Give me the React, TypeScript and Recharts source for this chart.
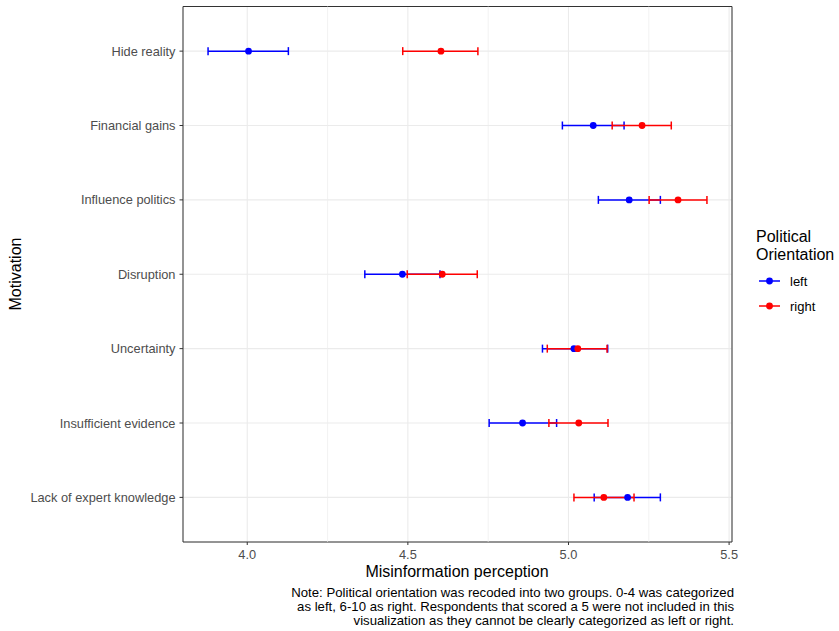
import React from "react";
import {
  ScatterChart,
  Scatter,
  XAxis,
  YAxis,
  CartesianGrid,
  ErrorBar,
  ReferenceLine,
  ReferenceArea,
} from "recharts";

const motivations = [
  "Hide reality",
  "Financial gains",
  "Influence politics",
  "Disruption",
  "Uncertainty",
  "Insufficient evidence",
  "Lack of expert knowledge",
];

const leftMean = [4.004, 5.077, 5.189, 4.483, 5.017, 4.857, 5.184];
const leftLow = [3.878, 4.981, 5.093, 4.366, 4.919, 4.753, 5.08];
const leftHigh = [4.128, 5.173, 5.286, 4.6, 5.122, 4.963, 5.286];

const rightMean = [4.603, 5.229, 5.341, 4.607, 5.029, 5.032, 5.11];
const rightLow = [4.484, 5.136, 5.251, 4.498, 4.934, 4.939, 5.017];
const rightHigh = [4.718, 5.32, 5.431, 4.716, 5.12, 5.123, 5.204];

const xTicks = [4.0, 4.5, 5.0, 5.5];
const xMinorTicks = [4.25, 4.75, 5.25];
const xDomain = [3.8, 5.509];
const yIndexTicks = motivations.map((_, i) => i);

const groupNames = ["left", "right"];
const groupColors = ["#0000FF", "#FF0000"];

const noteLines = [
  "Note: Political orientation was recoded into two groups. 0-4 was categorized",
  "as left, 6-10 as right. Respondents that scored a 5 were not included in this",
  "visualization as they cannot be clearly categorized as left or right.",
];

const build = (mean: number[], low: number[], high: number[]) =>
  motivations.map((name, i) => ({
    idx: i,
    name,
    mean: mean[i],
    err: [mean[i] - low[i], high[i] - mean[i]],
  }));

const leftData = build(leftMean, leftLow, leftHigh);
const rightData = build(rightMean, rightLow, rightHigh);

const FONT = "'Liberation Sans', Arial, Helvetica, sans-serif";

const makeDot = (color: string) => (props: any) =>
  <circle cx={props.cx} cy={props.cy} r={3.4} fill={color} />;
const NoShape = () => <g />;

export default function App() {
  return (
    <div
      style={{
        position: "absolute",
        left: 0,
        top: 0,
        width: 839,
        height: 631,
        background: "#ffffff",
        fontFamily: FONT,
      }}
    >
      <ScatterChart
        width={839}
        height={631}
        margin={{ top: 6.5, right: 107, left: 0, bottom: 0 }}
        style={{ position: "absolute", left: 0, top: 0 }}
      >
        <CartesianGrid stroke="#ebebeb" strokeWidth={1.1} />
        {xMinorTicks.map((v) => (
          <ReferenceLine key={v} x={v} stroke="#ededed" strokeWidth={0.7} />
        ))}
        <XAxis
          type="number"
          dataKey="mean"
          domain={xDomain}
          ticks={xTicks}
          allowDataOverflow
          tickFormatter={(v: number) => v.toFixed(1)}
          height={89}
          tickSize={3}
          tickMargin={4.5}
          axisLine={false}
          tickLine={{ stroke: "#333333" }}
          tick={{ fill: "#4d4d4d", fontSize: 12.8, fontFamily: FONT }}
        />
        <YAxis
          type="number"
          dataKey="idx"
          domain={[-0.6, 6.6]}
          reversed
          ticks={yIndexTicks}
          interval={0}
          allowDataOverflow
          tickFormatter={(v: number) => motivations[v]}
          width={183}
          tickSize={3.5}
          tickMargin={4}
          axisLine={false}
          tickLine={{ stroke: "#333333" }}
          tick={{ fill: "#4d4d4d", fontSize: 12.8, fontFamily: FONT }}
        />
        <Scatter data={leftData} shape={NoShape} isAnimationActive={false}>
          <ErrorBar
            dataKey="err"
            direction="x"
            width={4}
            stroke={groupColors[0]}
            strokeWidth={1.5}
            isAnimationActive={false}
          />
        </Scatter>
        <Scatter data={rightData} shape={NoShape} isAnimationActive={false}>
          <ErrorBar
            dataKey="err"
            direction="x"
            width={4}
            stroke={groupColors[1]}
            strokeWidth={1.5}
            isAnimationActive={false}
          />
        </Scatter>
        <Scatter data={leftData} shape={makeDot(groupColors[0])} isAnimationActive={false} />
        <Scatter data={rightData} shape={makeDot(groupColors[1])} isAnimationActive={false} />
        <ReferenceArea
          x1={xDomain[0]}
          x2={xDomain[1]}
          y1={-0.6}
          y2={6.6}
          fill="none"
          fillOpacity={0}
          stroke="#333333"
          strokeWidth={1}
          strokeOpacity={1}
        />
      </ScatterChart>
      <svg
        width={839}
        height={631}
        style={{ position: "absolute", left: 0, top: 0, pointerEvents: "none" }}
      >
        <text x={457} y={577} textAnchor="middle" fontSize={16} fill="#000" fontFamily={FONT}>
          Misinformation perception
        </text>
        <text
          x={0}
          y={0}
          transform="translate(21,274) rotate(-90)"
          textAnchor="middle"
          fontSize={16}
          fill="#000"
          fontFamily={FONT}
        >
          Motivation
        </text>
        {noteLines.map((line, i) => (
          <text
            key={i}
            x={734}
            y={596.5 + i * 14}
            textAnchor="end"
            fontSize={13.2}
            fill="#000"
            fontFamily={FONT}
          >
            {line}
          </text>
        ))}
        <text x={756} y={242} fontSize={16} fill="#000" fontFamily={FONT}>
          Political
        </text>
        <text x={756} y={260} fontSize={16} fill="#000" fontFamily={FONT}>
          Orientation
        </text>
        {groupNames.map((g, i) => (
          <g key={g}>
            <line
              x1={759}
              x2={780}
              y1={281 + i * 25}
              y2={281 + i * 25}
              stroke={groupColors[i]}
              strokeWidth={1.5}
            />
            <circle cx={769.5} cy={281 + i * 25} r={3.4} fill={groupColors[i]} />
            <text x={790} y={285.5 + i * 25} fontSize={13} fill="#000" fontFamily={FONT}>
              {g}
            </text>
          </g>
        ))}
      </svg>
    </div>
  );
}
